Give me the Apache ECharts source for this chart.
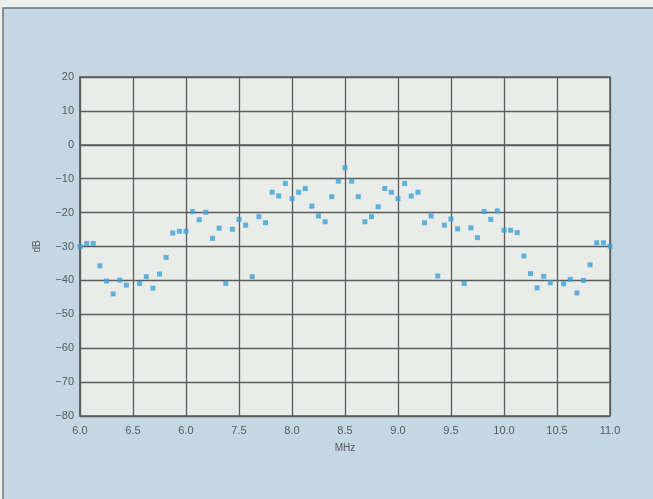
<!DOCTYPE html>
<html>
<head>
<meta charset="utf-8">
<script src="https://cdn.jsdelivr.net/npm/echarts@6/dist/echarts.min.js"></script>
<style>
  html, body { margin: 0; padding: 0; background: #eceeeb; }
  #chart { width: 653px; height: 499px; }
</style>
</head>
<body>
<div id="chart"></div>
<script>
// frequency (MHz) of each measured point
const freqMHz = [
  6.0, 6.0625, 6.125, 6.1875, 6.25, 6.3125, 6.375, 6.4375,
  6.5625, 6.625, 6.6875, 6.75, 6.8125, 6.875, 6.9375, 7.0,
  7.0625, 7.125, 7.1875, 7.25, 7.3125, 7.375, 7.4375, 7.5,
  7.5625, 7.625, 7.6875, 7.75, 7.8125, 7.875, 7.9375, 8.0,
  8.0625, 8.125, 8.1875, 8.25, 8.3125, 8.375, 8.4375, 8.5,
  8.5625, 8.625, 8.6875, 8.75, 8.8125, 8.875, 8.9375, 9.0,
  9.0625, 9.125, 9.1875, 9.25, 9.3125, 9.375, 9.4375, 9.5,
  9.5625, 9.625, 9.6875, 9.75, 9.8125, 9.875, 9.9375, 10.0,
  10.0625, 10.125, 10.1875, 10.25, 10.3125, 10.375, 10.4375,
  10.5625, 10.625, 10.6875, 10.75, 10.8125, 10.875, 10.9375, 11.0
]
// level (dB)
const levelDb = [
  -30.0, -29.1, -29.1, -35.7, -40.2, -44.0, -39.9, -41.4,
  -40.9, -38.9, -42.3, -38.1, -33.2, -26.0, -25.5, -25.5,
  -19.7, -22.1, -19.9, -27.6, -24.6, -40.9, -24.9, -22.0,
  -23.7, -38.9, -21.2, -23.0, -14.0, -15.1, -11.4, -15.9,
  -14.0, -12.9, -18.1, -21.0, -22.7, -15.3, -10.7, -6.8,
  -10.7, -15.3, -22.7, -21.2, -18.3, -12.9, -14.0, -15.9,
  -11.4, -15.1, -14.0, -23.0, -21.0, -38.7, -23.7, -21.9,
  -24.8, -40.9, -24.5, -27.4, -19.7, -22.0, -19.5, -25.2,
  -25.2, -25.9, -32.8, -38.0, -42.2, -38.8, -40.7,
  -41.0, -39.7, -43.7, -40.0, -35.4, -28.9, -28.9, -29.9
]
// x tick labels exactly as printed (third one reads 6.0)
const xTickLabels = ['6.0', '6.5', '6.0', '7.5', '8.0', '8.5', '9.0', '9.5', '10.0', '10.5', '11.0']

const chart = echarts.init(document.getElementById('chart'))
const gridColor = '#5b5d5c'
const labelColor = '#555a5c'

chart.setOption({
  animation: false,
  backgroundColor: '#eceeeb',
  textStyle: { fontFamily: 'Liberation Sans, Arial, sans-serif' },
  graphic: [{
    type: 'rect',
    z: -10,
    silent: true,
    shape: { x: 3, y: 8, width: 700, height: 550 },
    style: { fill: '#c5d7e3', stroke: '#6f7679', lineWidth: 1.5 }
  }],
  grid: {
    left: 80,
    right: 43,
    top: 77,
    bottom: 83,
    show: true,
    backgroundColor: '#e9ece8',
    borderColor: gridColor,
    borderWidth: 1.5
  },
  xAxis: {
    type: 'value',
    min: 6,
    max: 11,
    interval: 0.5,
    name: 'MHz',
    nameLocation: 'middle',
    nameGap: 27,
    nameTextStyle: { color: labelColor, fontSize: 10 },
    axisLine: { show: true, lineStyle: { color: gridColor, width: 1.5 } },
    axisTick: { show: false },
    axisLabel: {
      color: labelColor,
      fontSize: 11,
      margin: 9,
      formatter: function(v) {
        return xTickLabels[Math.round((v - 6) / 0.5)]
      }
    },
    splitLine: { show: true, lineStyle: { color: gridColor, width: 1.3 } }
  },
  yAxis: {
    type: 'value',
    min: -80,
    max: 20,
    interval: 10,
    name: 'dB',
    nameLocation: 'middle',
    nameGap: 38,
    nameTextStyle: { color: labelColor, fontSize: 10 },
    axisLine: { show: true, lineStyle: { color: gridColor, width: 1.5 } },
    axisTick: { show: false },
    axisLabel: {
      color: labelColor,
      fontSize: 11,
      margin: 6,
      formatter: function(v) {
        return v < 0 ? '\u2212' + Math.abs(v) : String(v)
      }
    },
    splitLine: { show: true, lineStyle: { color: gridColor, width: 1.3 } }
  },
  series: [{
    type: 'scatter',
    symbol: 'rect',
    symbolSize: 5,
    itemStyle: { color: '#3aa4d7' },
    data: freqMHz.map(function(f, i) {
      return [f, levelDb[i]]
    })
  }]
})
</script>
</body>
</html>
